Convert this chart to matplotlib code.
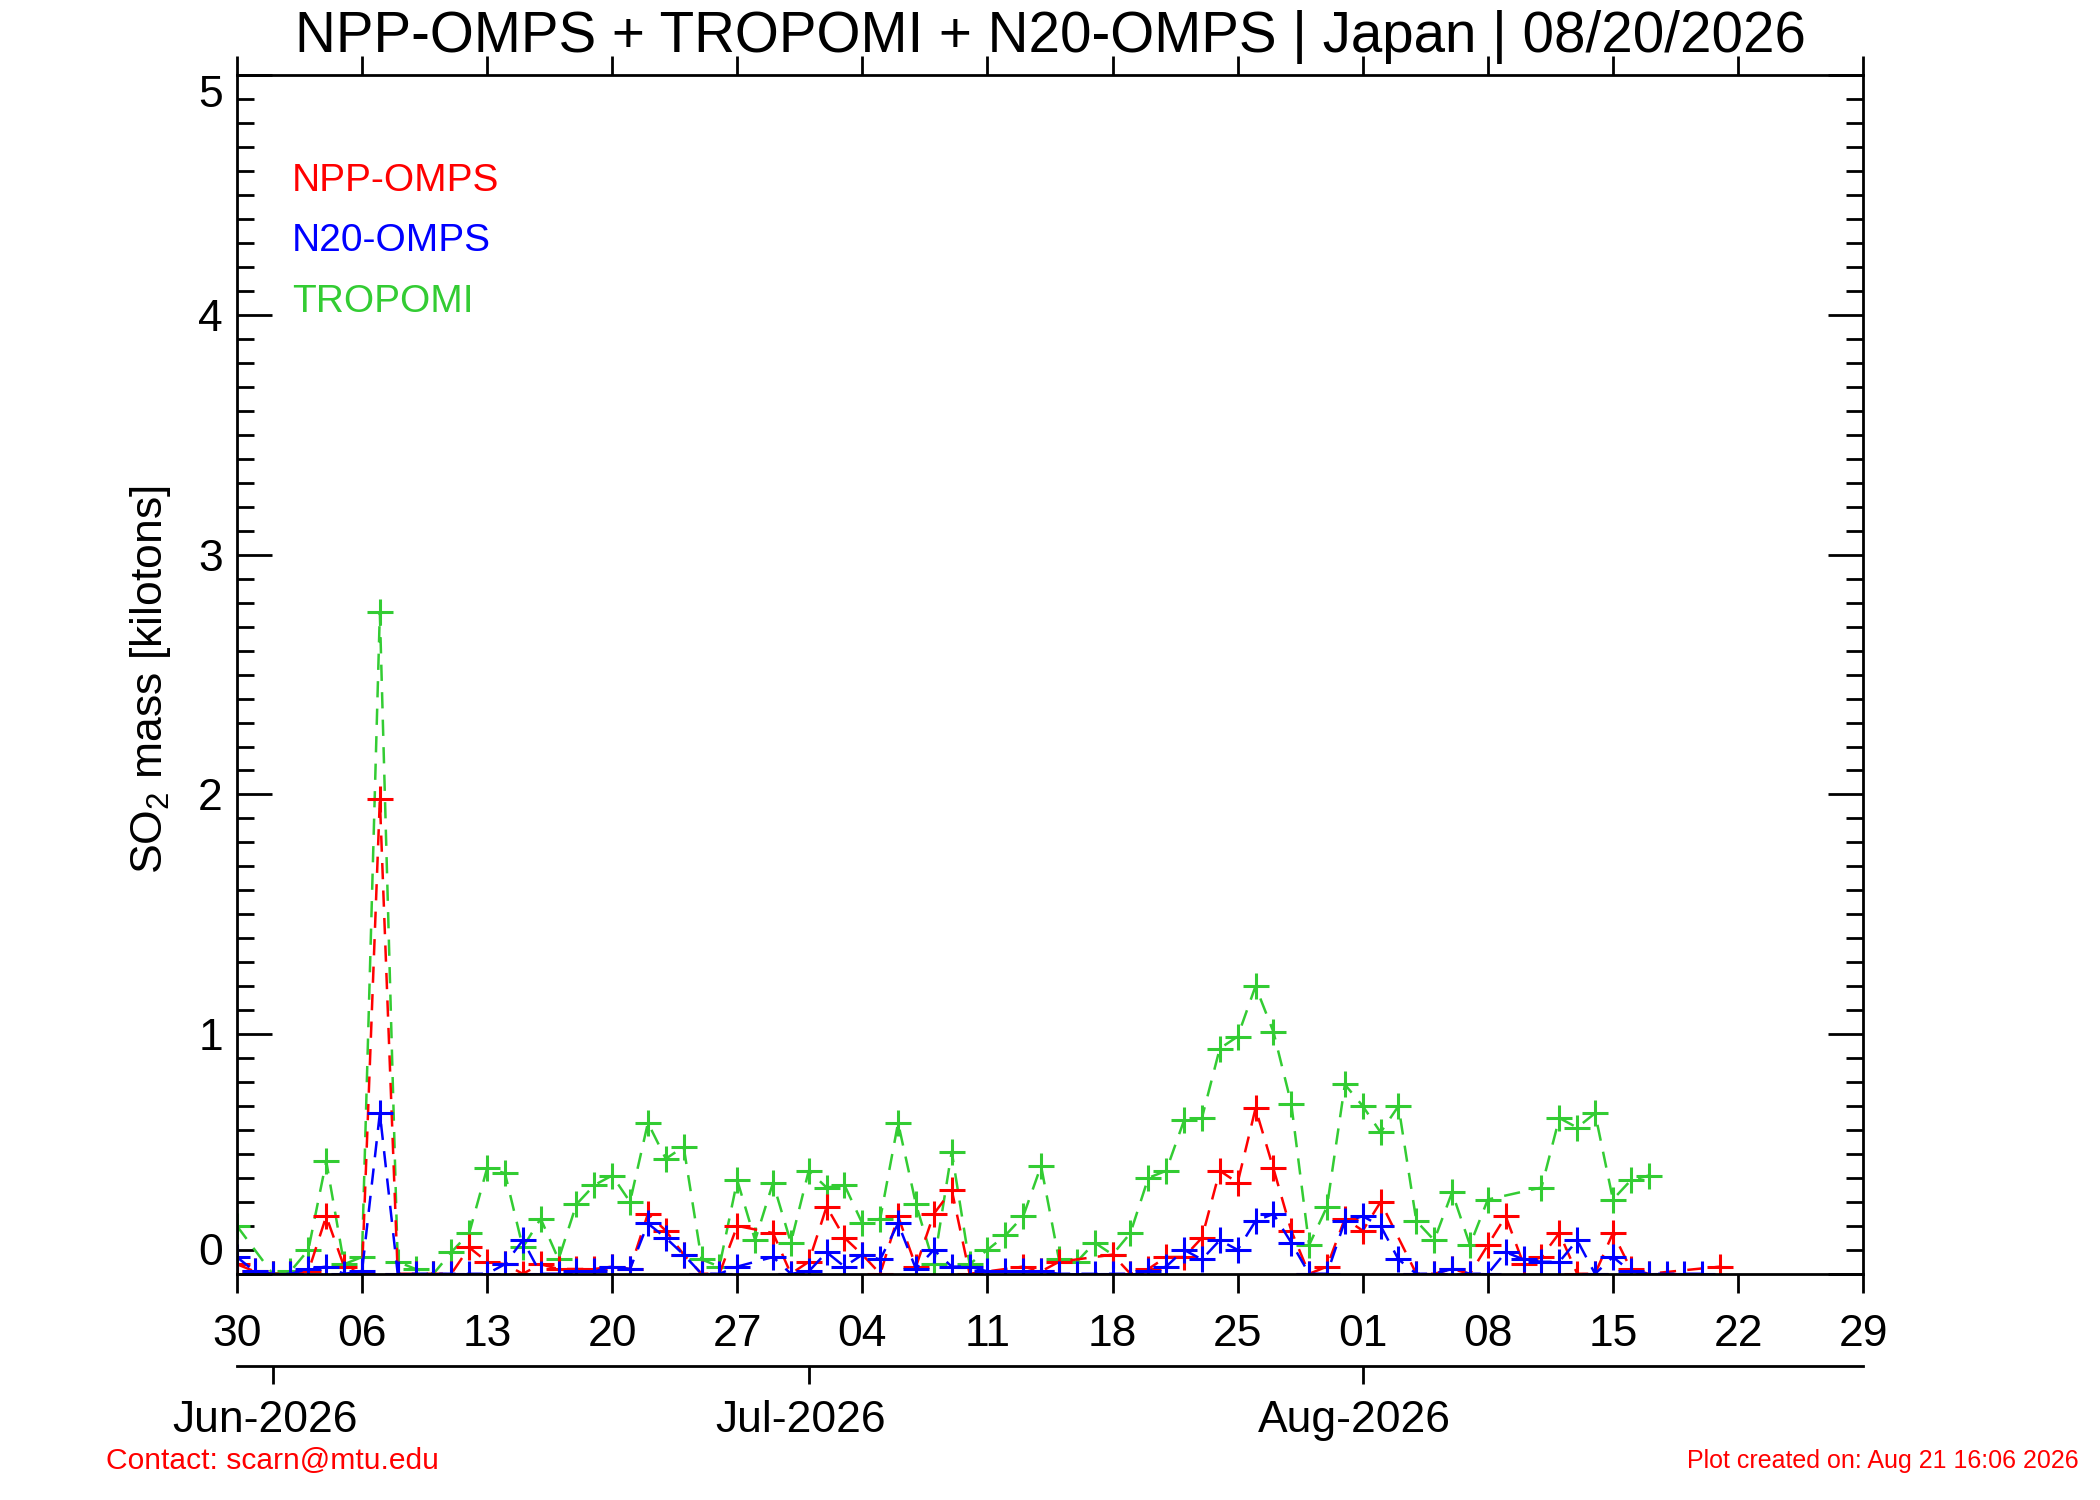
import numpy as np
import pandas as pd
import matplotlib
matplotlib.use("Agg")
import matplotlib.pyplot as plt
import matplotlib.dates as mdates
from matplotlib.ticker import MultipleLocator, FixedLocator
from matplotlib.transforms import ScaledTranslation

plt.rcParams['font.family'] = ['Liberation Sans', 'DejaVu Sans']

# days counted from 30 May 2026
start = "2026-05-30"
nan = np.nan

tropomi = [0.20, nan, 0.00, 0.01, 0.10, 0.47, 0.04, 0.07, 2.76, 0.05,
           0.02, 0.00, 0.09, 0.17, 0.44, 0.42, 0.11, 0.23, 0.06, 0.29,
           0.37, 0.41, 0.30, 0.63, 0.48, 0.53, 0.06, 0.03, 0.39, 0.14,
           0.38, 0.13, 0.43, 0.36, 0.37, 0.21, 0.23, 0.63, 0.29, 0.04,
           0.51, 0.04, 0.10, 0.16, 0.24, 0.45, 0.06, 0.05, 0.13, 0.08,
           0.17, 0.40, 0.43, 0.64, 0.65, 0.94, 0.99, 1.20, 1.01, 0.71,
           0.12, 0.28, 0.79, 0.70, 0.59, 0.70, 0.22, 0.14, 0.34, 0.12,
           0.31, nan, nan, 0.36, 0.65, 0.61, 0.67, 0.31, 0.39, 0.41]

npp_omps = [0.04, 0.01, 0.00, 0.00, 0.01, 0.24, 0.03, 0.00, 1.98, 0.00,
            0.00, 0.00, 0.00, 0.11, 0.05, 0.04, 0.00, 0.04, 0.02, 0.02,
            0.02, 0.03, 0.02, 0.25, 0.18, 0.08, 0.00, 0.00, 0.20, nan,
            0.17, 0.00, 0.05, 0.28, 0.15, 0.08, 0.00, 0.24, 0.03, 0.25,
            0.35, 0.00, nan, nan, 0.03, 0.01, 0.05, nan, nan, 0.08,
            0.00, 0.02, 0.07, 0.07, 0.15, 0.43, 0.38, 0.69, 0.44, 0.18,
            0.00, 0.03, 0.23, 0.18, 0.30, nan, 0.00, 0.00, 0.02, 0.00,
            0.12, 0.24, 0.04, 0.07, 0.17, 0.00, 0.00, 0.17, 0.02, 0.00,
            nan, nan, nan, 0.03]

n20_omps = [0.07, 0.01, 0.00, 0.00, 0.02, 0.03, 0.00, 0.01, 0.67, 0.00,
            0.00, 0.00, 0.00, 0.00, 0.00, 0.04, 0.14, 0.00, 0.00, 0.01,
            0.01, 0.03, 0.02, 0.21, 0.15, 0.08, 0.00, 0.00, 0.03, nan,
            0.07, 0.00, 0.01, 0.09, 0.03, 0.08, 0.06, 0.21, 0.02, 0.10,
            0.03, 0.03, 0.01, 0.01, 0.01, 0.01, 0.00, 0.00, 0.00, 0.00,
            0.00, 0.01, 0.03, 0.10, 0.06, 0.14, 0.10, 0.22, 0.25, 0.13,
            0.00, 0.00, 0.22, 0.24, 0.20, 0.06, 0.00, 0.00, 0.02, 0.00,
            0.00, 0.09, 0.06, 0.05, 0.05, 0.14, 0.00, 0.07, 0.01, 0.00,
            0.00, 0.00, 0.00]

series = [("TROPOMI", tropomi, "#33cc33"),
          ("NPP-OMPS", npp_omps, "red"),
          ("N20-OMPS", n20_omps, "blue")]

fig = plt.figure(figsize=(21, 15), dpi=100)
ax = fig.add_axes([0.1128, 0.1508, 0.7744, 0.7989])

for name, vals, col in series:
    v = np.array(vals, dtype=float)
    d = mdates.date2num(pd.date_range(start, periods=len(v), freq="D"))
    ok = ~np.isnan(v)
    ax.plot(d[ok], v[ok], color=col, linestyle="--", dashes=(6.5, 4.5),
            lw=1.8, marker="+", ms=19, mew=2.2)

x0 = mdates.date2num(pd.Timestamp("2026-05-30"))
x1 = mdates.date2num(pd.Timestamp("2026-08-29"))
ax.set_xlim(x0, x1)
ax.set_ylim(0, 5)

week_ticks = mdates.date2num(pd.date_range("2026-05-30", "2026-08-29", freq="7D"))
ax.xaxis.set_major_locator(FixedLocator(week_ticks))
ax.xaxis.set_major_formatter(mdates.DateFormatter("%d"))
ax.set_yticks(range(6))
ax.yaxis.set_minor_locator(MultipleLocator(0.1))

ax.tick_params(axis="x", which="major", direction="out", top=True, bottom=True,
               length=13.6, width=2, labelsize=32, pad=15)
ax.tick_params(axis="y", which="major", direction="in", left=True, right=True,
               length=25, width=2, labelsize=32, pad=10)
ax.tick_params(axis="y", which="minor", direction="in", left=True, right=True,
               length=12.5, width=2)
for s in ax.spines.values():
    s.set_linewidth(2)

yt = ax.yaxis.get_major_ticks()
yt[0].label1.set_verticalalignment("bottom")
yt[-1].label1.set_verticalalignment("top")

# month axis below
months = pd.to_datetime(["2026-06-01", "2026-07-01", "2026-08-01"])
sec = ax.secondary_xaxis(-0.0771)
sec.xaxis.set_major_locator(FixedLocator(mdates.date2num(months)))
sec.xaxis.set_major_formatter(mdates.DateFormatter("%b-%Y"))
sec.tick_params(axis="x", direction="out", length=13, width=2, labelsize=32, pad=11)
sec.spines["bottom"].set_linewidth(2)
shift = ScaledTranslation(-0.08, 0, fig.dpi_scale_trans)
for t in sec.xaxis.get_major_ticks(len(months)):
    t.label1.set_transform(t.label1.get_transform() + shift)

ax.text(0.0337, 0.9117, "NPP-OMPS", color="red", fontsize=28, va="center", transform=ax.transAxes)
ax.text(0.0337, 0.8615, "N20-OMPS", color="blue", fontsize=28, va="center", transform=ax.transAxes)
ax.text(0.0337, 0.8112, "TROPOMI", color="#33cc33", fontsize=28, va="center", transform=ax.transAxes)

fig.text(0.0718, 0.5467, r"SO$_\mathregular{2}$ mass [kilotons]", rotation=90,
         ha="center", va="center", fontsize=32)
fig.text(0.5, 0.975, "NPP-OMPS + TROPOMI + N20-OMPS | Japan | 08/20/2026",
         ha="center", va="center", fontsize=40.7)
fig.text(0.0506, 0.026, "Contact: scarn@mtu.edu", color="red", fontsize=21.6, va="center")
fig.text(0.99, 0.026, "Plot created on: Aug 21 16:06 2026", color="red",
         fontsize=18, ha="right", va="center")

fig.savefig("out.png", dpi=100)
